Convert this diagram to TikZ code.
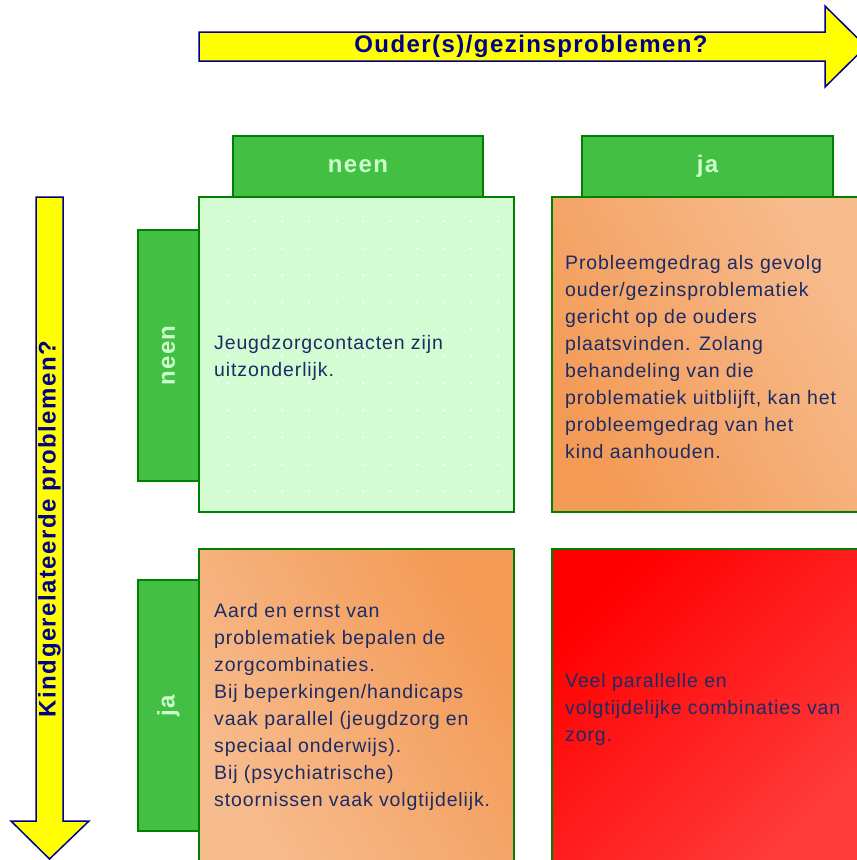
\documentclass[tikz,border=0pt]{standalone}
\usepackage{fontspec}
\setmainfont{Liberation Sans}
\newfontfamily\lsans[LetterSpace=6]{Liberation Sans}
\newfontfamily\lbody[LetterSpace=4.5]{Liberation Sans}
\definecolor{arrowblue}{HTML}{00008B}
\definecolor{textnavy}{HTML}{1C2B66}
\definecolor{tabgreen}{HTML}{43BF43}
\definecolor{edgegreen}{HTML}{008000}
\definecolor{tablight}{HTML}{CCFFCC}
\definecolor{boxgreen}{HTML}{D3FCD3}
\definecolor{orgdark}{HTML}{F39A55}
\definecolor{orglight}{HTML}{F7BC8E}
\definecolor{redA}{HTML}{FF0000}
\definecolor{redB}{HTML}{FF3C3C}
\definecolor{arrowyellow}{HTML}{FFFF00}
\tikzset{
  bigarrow/.style={draw=arrowblue, fill=arrowyellow, line width=1.5pt, line join=miter},
  arrowtext/.style={text=arrowblue, font=\lsans\bfseries\fontsize{24}{28}\selectfont, inner sep=0pt},
  tabbox/.style={draw=edgegreen, fill=tabgreen, line width=1.5pt, inner sep=0pt},
  tablabel/.style={text=tablight, font=\lsans\bfseries\fontsize{24}{28}\selectfont, inner sep=0pt},
  qbox/.style={draw=edgegreen, line width=1.5pt, inner sep=0pt, minimum width=315pt, minimum height=315pt},
  bodytext/.style={text=textnavy, font=\lbody\fontsize{19.5}{27}\selectfont, align=left, anchor=west, inner sep=0pt},
  dotmark/.style={white, line width=0.7pt}
}
\begin{document}
\begin{tikzpicture}[x=1pt,y=-1pt]
\useasboundingbox (0,0) rectangle (857,860);
\clip (0,0) rectangle (857,860);
% top arrow
\draw[bigarrow] (199,32) -- (825,32) -- (825,6) -- (866,46.5) -- (825,87) -- (825,61) -- (199,61) -- cycle;
\node[arrowtext] (toptxt) at (531,46.5) {Ouder(s)/gezinsproblemen?};
% left arrow
\draw[bigarrow] (36,197) -- (63,197) -- (63,821) -- (89,821) -- (49.5,859) -- (11,821) -- (36,821) -- cycle;
\node[arrowtext, rotate=90] (lefttxt) at (49.5,529) {Kindgerelateerde problemen?};
% tabs
\node[tabbox, minimum width=250pt, minimum height=61pt] (tabTL) at (358,166.5) {};
\node[tabbox, minimum width=251pt, minimum height=61pt] (tabTR) at (707.5,166.5) {};
\node[tabbox, minimum width=61pt, minimum height=251pt] (tabL1) at (168.5,355.5) {};
\node[tabbox, minimum width=61pt, minimum height=251pt] (tabL2) at (168.5,705.5) {};
\node[tablabel] (tabTLtxt) at (tabTL.center) {neen};
\node[tablabel] (tabTRtxt) at (tabTR.center) {ja};
\node[tablabel, rotate=90] (tabL1txt) at (tabL1.center) {neen};
\node[tablabel, rotate=90] (tabL2txt) at (tabL2.center) {ja};
% boxes
\node[qbox, fill=boxgreen] (boxTL) at (356.5,354.5) {};
\foreach \i in {0,...,10} \foreach \j in {0,...,10}
  \draw[dotmark] (226.8+27*\i, 221+27*\j) -- ++(2.4,0) (228+27*\i, 219.8+27*\j) -- ++(0,2.4);
\node[qbox, top color=orglight, bottom color=orgdark, shading angle=-60] (boxTR) at (709.5,354.5) {};
\node[qbox, top color=orgdark, bottom color=orglight, shading angle=-60] (boxBL) at (356.5,706.5) {};
\node[qbox, top color=redA, bottom color=redB, shading angle=45] (boxBR) at (709.5,706.5) {};
% texts
\node[bodytext] (txtTL) at (214,357.5) {Jeugdzorgcontacten zijn\\uitzonderlijk.};
\node[bodytext] (txtTR) at (565,357) {Probleemgedrag als gevolg\\ouder/gezinsproblematiek\\gericht op de ouders\\plaatsvinden. Zolang\\behandeling van die\\problematiek uitblijft, kan het\\probleemgedrag van het\\kind aanhouden.};
\node[bodytext] (txtBL) at (214,707) {Aard en ernst van\\problematiek bepalen de\\zorgcombinaties.\\Bij beperkingen/handicaps\\vaak parallel (jeugdzorg en\\speciaal onderwijs).\\Bij (psychiatrische)\\stoornissen vaak volgtijdelijk.};
\node[bodytext] (txtBR) at (565,709) {Veel parallelle en\\volgtijdelijke combinaties van\\zorg.};
\end{tikzpicture}
\end{document}
